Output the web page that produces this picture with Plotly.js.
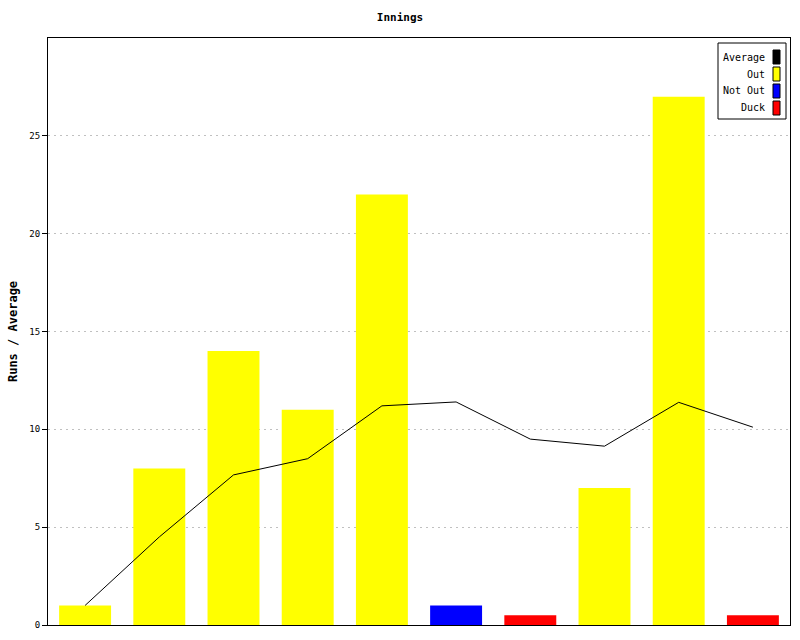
<!DOCTYPE html>
<html>
<head>
<meta charset="utf-8">
<script src="https://cdn.plot.ly/plotly-3.0.1.min.js"></script>
<style>body{margin:0;background:#fff}#chart{width:800px;height:640px}</style>
</head>
<body>
<div id="chart"></div>
<script>
// Data
const innings = [1, 2, 3, 4, 5, 6, 7, 8, 9, 10];
const runs = [1, 8, 14, 11, 22, 1, 0.5, 7, 27, 0.5];
const status = ["Out", "Out", "Out", "Out", "Out", "Not Out", "Duck", "Out", "Out", "Duck"];
const average = [1, 4.5, 7.67, 8.5, 11.2, 11.4, 9.5, 9.14, 11.38, 10.11];
const legendNames = ["Average", "Out", "Not Out", "Duck"];
const legendColors = ["#000000", "#ffff00", "#0000ff", "#ff0000"];
const yTicks = [0, 5, 10, 15, 20, 25];

const colorOf = {};
legendNames.forEach((n, i) => colorOf[n] = legendColors[i]);

const W = 800, H = 640, L = 48, R = 10, T = 38, B = 15;
const pw = W - L - R, ph = H - T - B;
const px = x => (x - L) / pw;
const py = y => (H - B - y) / ph;

const font = "DejaVu Sans Mono, monospace";

const traces = [
  {
    type: "bar", x: innings, y: runs, width: 0.7,
    marker: {color: status.map(s => colorOf[s]), line: {width: 0}},
    showlegend: false, hoverinfo: "x+y"
  },
  {
    type: "scatter", mode: "lines", x: innings, y: average,
    line: {color: "#000000", width: 1}, showlegend: false
  }
];

const shapes = [{
  type: "rect", xref: "paper", yref: "paper",
  x0: px(718), x1: px(786), y0: py(119), y1: py(43),
  line: {color: "#000", width: 1}, fillcolor: "#fff", layer: "above"
}];
const annotations = [];
legendNames.forEach((n, i) => {
  const cy = 57 + i * 17;
  shapes.push({
    type: "rect", xref: "paper", yref: "paper",
    x0: px(773), x1: px(780), y0: py(cy + 7), y1: py(cy - 7),
    line: {color: "#000", width: 1}, fillcolor: legendColors[i], layer: "above"
  });
  annotations.push({
    xref: "paper", yref: "paper", x: px(767), y: py(cy),
    xanchor: "right", yanchor: "middle", showarrow: false,
    text: n, font: {family: font, size: 10, color: "#000"}
  });
});

const layout = {
  width: W, height: H,
  margin: {l: L, r: R, t: T, b: B, pad: 0},
  paper_bgcolor: "#fff", plot_bgcolor: "#fff",
  title: {text: "<b>Innings</b>", x: 0.5, xanchor: "center", y: 1 - 17 / H, yanchor: "middle",
          font: {family: font, size: 11, color: "#000"}},
  xaxis: {range: [0.5, 10.5], showticklabels: false, ticks: "", showgrid: false, zeroline: false,
          showline: true, linecolor: "#000", linewidth: 1, mirror: true, fixedrange: true},
  yaxis: {range: [0, 30], tickvals: yTicks, ticktext: yTicks.map(String),
          ticks: "outside", ticklen: 5, tickcolor: "#000", tickwidth: 1,
          showgrid: true, gridcolor: "#c0c0c0", griddash: "2px,4px", gridwidth: 1,
          zeroline: false, showline: true, linecolor: "#000", linewidth: 1, mirror: true,
          tickfont: {family: font, size: 9, color: "#000"},
          title: {text: "<b>Runs / Average</b>", standoff: 9, font: {family: font, size: 12, color: "#000"}}},
  bargap: 0.3,
  shapes: shapes,
  annotations: annotations,
  showlegend: false
};

Plotly.newPlot("chart", traces, layout, {displayModeBar: false, staticPlot: true});
</script>
</body>
</html>
